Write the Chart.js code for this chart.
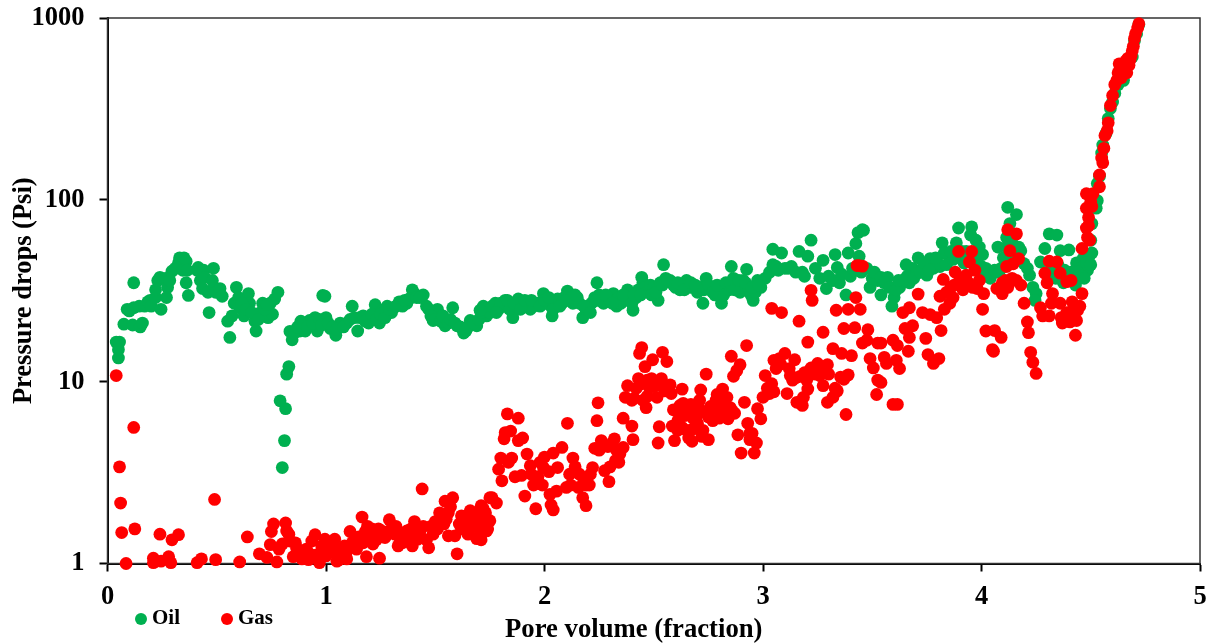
<!DOCTYPE html>
<html>
<head>
<meta charset="utf-8">
<title>Pressure drops</title>
<script src="https://cdn.jsdelivr.net/npm/chart.js@4"></script>
<style>
  html, body { margin: 0; padding: 0; background: #fff; }
  #wrap { width: 1211px; height: 644px; }
</style>
</head>
<body>
<div id="wrap"><canvas id="chart" width="1211" height="644"></canvas></div>
<script>
const xTicks = [0, 1, 2, 3, 4, 5];
const yTicks = [1, 10, 100, 1000];
const seriesNames = ['Oil', 'Gas'];

// values: [pore volume, pressure drop]
const oilPoints = [
  [.04,16.5],[.055,16.5],[.05,13.5],[.05,15],[.075,20.7],[.09,25],[.10,24.5],[.12,25.5],[.12,35],[.115,20.5],[.15,20],[.16,21],
  [.145,26],[.17,26],[.195,28],[.185,27.5],[.2,26],[.22,29],[.245,25],[.22,32],[.23,36],[.24,37.5],[.265,37],[.27,29],[.275,33],
  [.285,36],[.295,40.5],[.31,42],[.325,45],[.33,48],[.35,48],[.36,46],[.345,41],[.365,41],[.36,35],[.37,29.8],[.41,41],[.415,42.5],
  [.425,36],[.44,41],[.445,37.5],[.435,32.5],[.46,31],[.465,24],[.485,42],[.48,36],[.485,32.5],[.495,31],[.515,32.5],[.525,29.5],
  [.56,17.5],[.59,33],[.645,30.5],[.58,27],[.55,21.5],[.57,23],[.605,25.5],[.625,23],[.65,27],[.675,21.5],[.68,19],[.70,24],[.71,27],
  [.735,22.5],[.755,23.5],[.745,27],[.765,28.5],[.78,31],[.60,29],[.615,27],[.635,25],[.66,24],[.69,22],[.72,25],[.73,26.5],
  [.80,3.37],[.81,4.74],[.815,7.1],[.79,7.85],[.82,11],[.83,12.1],
  [.835,18.9],[.845,17],[.855,18.5],[.885,21.5],[.88,19],[.905,19],[.925,21.7],[.96,19],[.95,22.5],[.985,29.8],[.995,29.5],[1.0,22.5],
  [1.02,19.6],[1.045,18],[1.065,21],[1.095,21],[1.12,26],[1.145,19],[1.155,22.5],[1.195,21],[1.245,21],[1.225,26.5],[1.26,24.7],
  [1.30,24],[1.28,26],[1.335,27.5],[1.37,27],[1.395,32],[1.405,30.5],[1.445,30],[1.46,26],[1.49,21.7],[1.51,25],[1.545,20.3],[1.58,25.5],
  [1.60,20.3],[1.63,18.5],[1.66,21.7],[1.69,20.3],[1.72,26],[1.735,23],
  [.87,20],[.90,21],[.915,20],[.94,21],[.97,22],[.98,20.5],[1.01,21],[1.03,20],[1.05,19.5],[1.08,20],[1.11,22],[1.13,22.5],[1.17,23],
  [1.18,21.5],[1.21,23.5],[1.23,22],[1.25,23.5],[1.27,22.5],[1.29,25],[1.31,25.5],[1.32,26],[1.35,26],[1.36,28],[1.38,28.5],[1.415,29],
  [1.43,29],[1.47,25],[1.48,23],[1.50,22],[1.525,21.5],[1.535,23],[1.56,21],[1.57,22],[1.59,21],[1.615,20],[1.64,19],[1.65,20],[1.675,21],
  [1.70,22],[1.71,24],[1.75,24],[1.76,26],
  [1.705,24.7],[1.775,27],[1.82,28],[1.855,22.5],[1.88,28.5],[1.935,25],[1.995,30.5],[2.035,23],[2.06,28.5],[2.105,31.5],[2.15,29],
  [2.175,22.5],[2.215,27],[2.24,35],[2.27,27],[2.315,30.5],[2.33,26],[2.38,32],[2.405,24.7],[2.445,37.5],[2.45,35],[2.52,28],[2.545,44],
  [2.575,36],[2.62,32],[2.65,36],[2.725,27],[2.74,37],[2.81,27],[2.855,43],[2.835,33],[2.925,41.5],[2.895,31],[2.955,28],[2.975,36],
  [1.79,25],[1.80,27],[1.84,25],[1.87,26],[1.90,27],[1.92,26],[1.95,26],[1.97,27],[2.01,27],[2.03,26],[2.05,26],[2.08,27],[2.09,29],
  [2.12,29],[2.13,27],[2.16,27],[2.19,25],[2.20,26],[2.23,29],[2.25,30],[2.26,28],[2.29,29],[2.30,28],[2.34,29],[2.35,27],[2.37,28.5],
  [2.39,30],[2.42,29],[2.43,32],[2.46,33],[2.47,31],[2.485,34],[2.50,33],[2.53,35],[2.555,37],[2.59,34],[2.60,33],[2.635,34],[2.66,33],
  [2.68,33],[2.70,31],[2.715,33],[2.76,32],[2.78,30],[2.80,32],[2.82,30],[2.845,32],[2.865,37],[2.88,34],[2.905,33],[2.91,36],[2.935,33],
  [2.945,30],[2.965,31],[2.99,33],[3.01,37],
  [1.78,24],[1.83,28],[1.86,27],[1.89,25],[1.91,28],[1.94,28],[1.98,26],[2.00,28],[2.02,29],[2.04,25],[2.07,26],[2.10,28],[2.14,30],[2.18,26],
  [2.21,24],[2.24,28],[2.28,30],[2.31,27],[2.36,30],[2.40,27],[2.41,30],[2.44,30],[2.49,30],[2.51,31],[2.54,34],[2.565,36],[2.61,35],[2.64,32],
  [2.67,35],[2.69,34],[2.73,32],[2.75,34],[2.77,31],[2.79,34],[2.83,35],[2.85,35],[2.87,32],[2.89,36],[2.92,35],[2.95,33],[2.98,34],
  [3.045,53.5],[3.085,51],[3.045,44],[3.115,42],[3.165,52],[3.205,49],[3.22,60],[3.18,40],[3.275,46.5],[3.29,32.5],[3.33,50],[3.34,42.5],
  [3.38,30],[3.39,51],[3.425,57.5],[3.435,66],[3.455,68.5],[3.44,49],[3.49,33],[3.475,42],[3.525,36],[3.03,40],[3.06,43],[3.07,41],[3.10,42],
  [3.13,43],[3.15,40],[3.19,38],[3.24,42],[3.26,37],[3.30,38],[3.32,36],[3.35,35],[3.36,39],[3.40,38],[3.41,42],[3.45,40],[3.50,37],[3.51,40],
  [3.46,68],[3.54,30],[3.59,26],[3.60,29],[3.54,37.5],[3.57,37.5],[3.625,33],[3.655,44],[3.67,35],[3.71,48],[3.75,38.5],[3.765,47.5],[3.81,43],
  [3.82,58],[3.83,51],[3.855,48],[3.885,58],[3.895,70],[3.955,71],[3.95,64],[3.975,60],[4.005,50],[4.00,43],[4.03,39.5],[4.05,39.5],[4.075,55],
  [4.115,55],[4.12,91],[4.16,83],[4.13,74],[4.115,62],[4.18,52.5],[4.195,44.5],[4.22,38.5],[4.235,33],[4.25,30.5],[4.245,28],[4.27,45.5],
  [4.29,54],[4.31,65],[4.345,64],[4.36,52.5],[4.40,53],[4.375,35],[4.43,34],[4.435,45],[4.465,47.5],[4.485,41],[4.505,51],[4.505,74],
  [3.555,35],[3.58,33],[3.61,32],[3.64,36],[3.685,42],[3.70,39],[3.73,42],[3.78,42],[3.80,45],[3.84,44],[3.87,47],[3.91,52],[3.93,52],[3.99,55],
  [4.02,42],[4.04,37],[4.06,41],[4.09,42],[4.10,48],[4.14,58],[4.17,55],[4.30,40],[4.325,38],[4.35,44],[4.39,36],[4.41,40],[4.45,42],[4.475,44],
  [4.49,48],[4.50,60],[3.62,36],[3.66,38],[3.69,37],[3.72,40],[3.74,45],[3.76,41],[3.79,48],[3.86,52],[3.90,48],[3.92,45],[3.96,47],[3.98,48],
  [4.01,38],[4.08,40],[4.11,45],[4.15,48],[4.21,42],[4.33,42],[4.34,37],[4.38,41],[4.42,38],[4.44,40],[4.46,38],[4.47,37],[4.48,45],[4.50,44],
  [4.53,99],[4.525,90],[4.53,123],[4.54,135],[4.55,181],[4.555,200],[4.57,232],[4.58,280],[4.59,318],[4.60,345],[4.61,386],[4.625,430],[4.65,454],
  [4.64,490],[4.66,510],[4.67,560],[4.69,610],[4.70,750],[4.71,820],[4.72,920]
];
const gasPoints = [
  [.04,10.8],[.12,5.6],[.055,3.4],[.06,2.15],[.065,1.48],[.125,1.55],[.085,1.0],[.24,1.45],[.295,1.35],[.325,1.44],[.21,1.07],[.21,1.01],
  [.245,1.03],[.28,1.09],[.29,1.01],[.41,1.01],[.43,1.06],[.495,1.05],[.605,1.02],[.49,2.25],[.64,1.4],[.695,1.13],[.73,1.08],[.775,1.02],
  [.76,1.65],[.815,1.67],[.75,1.5],[.82,1.51],[.745,1.27],[.785,1.2],[.80,1.28],[.835,1.33],[.85,1.09],[.865,1.22],[.89,1.06],[.925,1.13],
  [.935,1.33],[.95,1.44],[.97,1.01],[.995,1.36],[1.01,1.17],[1.04,1.36],[1.05,1.03],[1.095,1.06],[1.05,1.2],[1.085,1.25],[1.11,1.5],[1.14,1.2],
  [1.165,1.8],[1.185,1.09],[1.19,1.6],[1.215,1.28],[1.245,1.07],[1.24,1.55],[1.29,1.74],[1.27,1.39],[1.315,1.45],[1.33,1.25],[1.395,1.25],
  [1.405,1.7],[1.37,1.51],[1.445,1.6],[1.42,1.36],[1.47,1.22],[1.44,2.57],[1.49,1.45],[1.52,1.9],[1.545,2.2],[1.58,2.3],[1.56,1.42],[1.60,1.13],
  [1.59,1.42],[1.56,1.9],[1.62,1.83],[1.65,1.45],[1.66,1.76],[1.69,1.37],[1.71,2.08],[1.75,2.3],[1.72,1.67],[1.74,1.55],
  [.83,1.45],[.87,1.15],[.90,1.1],[.91,1.2],[.98,1.25],[1.02,1.3],[1.03,1.15],[1.07,1.15],[1.10,1.2],[1.13,1.35],[1.15,1.4],[1.17,1.3],[1.20,1.45],
  [1.22,1.5],[1.23,1.35],[1.26,1.5],[1.28,1.45],[1.30,1.55],[1.35,1.3],[1.36,1.45],[1.38,1.4],[1.41,1.4],[1.43,1.5],[1.46,1.35],[1.48,1.6],[1.50,1.7],
  [1.53,1.8],[1.57,2.05],[1.61,1.65],[1.63,1.7],[1.64,1.6],[1.67,1.6],[1.68,1.9],[1.70,1.8],[1.73,1.9],
  [.86,1.3],[.92,1.05],[.96,1.12],[1.00,1.1],[1.06,1.05],[1.09,1.12],[1.12,1.3],[1.16,1.4],[1.18,1.5],[1.21,1.55],[1.25,1.4],[1.32,1.6],[1.34,1.35],
  [1.39,1.55],[1.51,1.55],[1.54,1.65],[1.55,1.75],[1.62,1.55],[1.68,1.65],[1.70,1.55],[1.73,1.7],[1.66,1.95],
  [1.71,1.35],[1.72,2],[1.735,1.51],[1.75,1.72],[1.76,2.3],[1.78,2.15],
  [1.805,2.85],[1.79,3.3],[1.80,3.8],[1.85,3.8],[1.835,3.6],[1.865,3],[1.895,3.05],[1.815,4.85],[1.82,5.25],[1.845,5.35],[1.83,6.65],[1.88,6.3],
  [1.88,4.74],[1.90,4.9],[1.91,2.35],[1.96,2],[2.03,2.1],[2.04,1.97],[1.92,4],[1.935,3.45],[1.95,2.7],[1.99,2.7],[1.995,3.37],[2.0,3.85],[2.025,2.4],
  [2.055,2.5],[2.04,4.05],[2.08,4.35],[2.06,3.37],[2.10,2.62],[2.115,3.1],[2.13,3.8],[2.105,5.9],[2.155,2.62],[2.175,2.3],[2.19,2.08],[2.205,2.7],
  [2.22,3.37],[2.23,4.3],[2.26,4.74],[2.24,6.1],[2.245,7.65],[2.275,3.24],[2.295,2.82],[2.325,3.68],[2.32,4.85],[2.36,4.35],[2.345,4],[2.36,6.3],
  [2.40,5.7],[2.405,4.8],[2.37,8.2],[2.38,9.5],[2.43,10.4],[2.41,8.1],[2.465,7.2],[2.45,7.9],[2.515,8.2],[2.435,14.3],[2.445,15.4],[2.46,12.1],
  [2.495,13.2],[2.54,14.5],[2.56,12.9],[2.48,9.3],[2.49,10.4],[2.535,10.4],[2.575,9.6],[2.58,8.6],[2.63,9.1],[2.525,5.65],[2.52,4.6],[2.595,4.74],
  [2.585,5.7],[2.605,6.9],[2.635,7.6],[2.675,4.7],[2.65,5.4],[2.70,5.9],[2.68,6.3],[2.71,7.9],[2.715,9],[2.74,11],[2.75,4.8],[2.725,5.4],[2.77,6.1],
  [2.80,6.3],[2.785,7.9],[2.815,9.1],[2.835,8.2],[2.84,6.25],[2.86,6.9],[2.855,13.8],[2.895,12.4],[2.88,11.5],[2.865,10.7],[2.925,15.8],[2.915,7.7],
  [2.885,5.1],[2.93,5.9],[2.90,4.05],[2.96,4.05],[2.97,4.6],[2.94,5.2],[2.99,6.25],[2.975,7.1],[3.0,8.2],[3.03,8.6],[3.04,9.75],[3.01,10.8],[3.05,13.1],
  [3.075,13.4],[3.10,14.3],[3.145,13.2],[3.11,8.6],[3.125,10.8],[3.135,10.2],[3.155,7.7],[3.18,7.4],[3.185,8.2],[3.19,11.2],[3.22,11.9],[3.205,9.1],
  [3.25,12.6],[3.295,12.4],[3.26,10.8],[3.275,9.5],[3.295,7.7],[3.32,8.2],[3.34,8.9],[3.355,10.6],[3.39,10.9],[3.38,6.6],[3.32,15.2],[3.36,14.3],
  [3.405,13.9],[3.275,18.7],[3.205,16.5],[3.165,21.5],[3.04,25.3],[3.085,24],[3.22,31.8],[3.225,28],[3.335,24.7],[3.39,25],[3.445,25],[3.425,29],
  [3.37,19.6],[3.42,19.8],[3.48,19.3],[3.455,16.3],[3.475,16.9],[3.49,13.4],[3.505,11.9],[3.525,16.3],[3.52,8.5],[3.525,10.2],[3.43,43.5],[3.455,43.2],[3.44,43.5],
  [1.94,3.1],[1.97,3.0],[1.98,3.6],[2.02,3.2],[2.12,2.7],[2.14,3.4],[2.16,3.1],[2.18,2.9],[2.19,2.7],[2.21,3.1],[2.25,4.2],
  [2.27,4.5],[2.29,4.4],[2.31,4.6],[2.33,4.2],[2.34,3.6],[2.30,3.4],[2.40,7.9],[2.42,9.2],[2.44,9.7],[2.47,10.2],[2.50,9.4],[2.47,8.3],[2.53,9.6],[2.55,8.9],
  [2.59,7],[2.61,6.1],[2.62,7.4],[2.64,6.5],[2.66,6.9],[2.67,7.5],[2.69,7.1],[2.70,6.6],[2.72,6.9],[2.75,6.4],[2.76,7.3],[2.78,7.1],[2.79,8.5],[2.80,7.3],
  [2.82,7.7],[2.83,6.9],[2.85,7.2],[2.87,6.7],[2.61,5.4],[2.63,5.6],[2.66,4.9],[2.68,5.5],[2.72,5],[2.94,4.8],[2.95,5.2],[3.02,9.2],[3.05,8.8],[3.06,11.8],
  [3.08,12.5],[3.12,11.8],[3.15,10.5],[3.17,10.7],[3.20,10.2],[3.24,11],[3.27,11.9],[3.30,11],[3.33,9.2],[3.37,10.3],
  [3.54,16.3],[3.555,13.6],[3.565,12.6],[3.595,16.9],[3.61,13.1],[3.625,11.8],[3.615,15.8],[3.665,14.7],[3.67,17.5],[3.65,19.6],[3.685,20.3],[3.745,17.3],
  [3.755,14.1],[3.78,12.6],[3.805,13.4],[3.815,19.1],[3.64,24],[3.67,25.5],[3.71,30.3],[3.73,24],[3.765,23.4],[3.795,22.5],[3.81,29.5],[3.83,25],[3.855,27],
  [3.87,29],[3.825,36.5],[3.88,40],[3.875,34],[3.915,32],[3.93,38.5],[3.895,52],[3.955,52],[3.945,45.5],[3.97,41],[3.98,32.5],[4.01,30.5],[4.005,25],
  [4.02,19],[4.06,19.1],[4.09,17.5],[4.05,15],[4.055,14.7],[4.07,32.5],[4.095,30.5],[4.095,35],[4.14,37],[4.18,34],[4.115,43],[4.13,52.5],[4.145,44.5],
  [4.17,47.5],[4.12,68.5],[4.16,65],[4.195,27],[4.21,21.3],[4.215,18.6],[4.225,14.5],[4.235,12.8],[4.25,11.1],[4.27,25.5],[4.28,23],[4.31,23],[4.29,39.5],
  [4.30,35],[4.325,30.5],[4.32,27],[4.36,27],[4.31,46],[4.345,45.5],[4.36,39.5],[4.39,35.5],[4.41,36],[4.415,27.5],[4.46,30.5],[4.44,24.7],[4.365,22.5],
  [4.37,21],[4.405,21.3],[4.435,21.7],[4.43,18],[3.54,9.9],[3.595,7.5],[3.615,7.5],
  [3.90,36],[3.92,37],[3.94,35],[3.96,33],[3.99,36],[3.86,33],[3.84,31],[4.11,36],[4.12,33],[4.16,36],[4.40,23],[4.42,25],[4.39,24],[4.45,26],[4.38,22],
  [4.46,54],[4.48,70],[4.495,60],[4.48,90],[4.505,92],[4.48,108],[4.51,108],[4.54,118],[4.54,137],[4.555,160],[4.56,192],[4.565,226],[4.58,265],[4.59,330],
  [4.60,375],[4.62,455],[4.635,535],[4.655,560],[4.68,590],[4.69,660],[4.70,770],[4.72,930],[4.49,80],[4.485,62],[4.625,500],[4.64,470],[4.65,520],
  [4.665,500],[4.675,550],[4.695,700],[4.705,820],[4.715,880],[4.575,240],[4.55,170],[4.63,560],[4.645,530],[4.66,580],[4.67,600],[4.64,520],[4.61,430],
  [4.685,620],[4.50,98],[4.49,72]
];

const serif = '"Liberation Serif", "Times New Roman", serif';

// legend and x title sit where they do in the figure, not where the layout puts them
const moveLegend = {
  id: 'moveLegend',
  afterLayout(chart) {
    const l = chart.legend;
    const w = l.width, h = l.height;
    l.left = 94;
    l.right = l.left + w;
    l.top = 562;
    l.bottom = l.top + h;

    const x = chart.scales.x;
    const drawTitle = x.drawTitle;
    x.drawTitle = function () {
      const left = this.left;
      this.left = left - 40;
      drawTitle.call(this);
      this.left = left;
    };
  }
};

// top and right edges of the plot frame
const plotFrame = {
  id: 'plotFrame',
  beforeDatasetsDraw(chart) {
    const { ctx, chartArea: a } = chart;
    ctx.save();
    ctx.strokeStyle = '#333333';
    ctx.lineWidth = 1.5;
    ctx.strokeRect(a.left, a.top, a.right - a.left, a.bottom - a.top);
    ctx.restore();
  }
};

new Chart(document.getElementById('chart'), {
  type: 'scatter',
  data: {
    datasets: [
      {
        label: seriesNames[0],
        data: oilPoints.map(p => ({ x: p[0], y: p[1] })),
        backgroundColor: '#00B050',
        borderColor: '#00B050',
        pointRadius: 6.4,
        borderWidth: 0,
        clip: false,
        order: 2
      },
      {
        label: seriesNames[1],
        data: gasPoints.map(p => ({ x: p[0], y: p[1] })),
        backgroundColor: '#FF0000',
        borderColor: '#FF0000',
        pointRadius: 6.4,
        borderWidth: 0,
        clip: false,
        order: 1
      }
    ]
  },
  options: {
    responsive: false,
    animation: false,
    layout: { autoPadding: false, padding: { top: 18, right: 11, left: 0, bottom: -78 } },
    plugins: {
      tooltip: { enabled: false },
      legend: {
        position: 'bottom',
        align: 'start',
        labels: {
          usePointStyle: true,
          pointStyle: 'circle',
          boxWidth: 1,
          boxHeight: 8.5,
          padding: 46.5,
          color: '#000',
          font: { family: serif, size: 21, weight: 'bold' },
          sort: (a, b) => a.datasetIndex - b.datasetIndex
        }
      }
    },
    scales: {
      x: {
        type: 'linear',
        min: 0,
        max: 5,
        afterFit: s => { s.height = 81; s.paddingLeft = 0; s.paddingRight = 0; },
        afterBuildTicks: s => { s.ticks = xTicks.map(v => ({ value: v })); },
        ticks: { color: '#000', maxRotation: 0, padding: 10, font: { family: serif, size: 26.5, weight: 'bold' } },
        grid: { drawOnChartArea: false, drawTicks: true, tickLength: 8, tickColor: '#000', tickWidth: 2 },
        border: { color: '#000', width: 2 },
        title: { display: true, text: 'Pore volume (fraction)', color: '#000', padding: { top: 0, bottom: -2 }, font: { family: serif, size: 26.7, weight: 'bold' } }
      },
      y: {
        type: 'logarithmic',
        min: 1,
        max: 1000,
        afterFit: s => { s.width = 107.5; s.paddingTop = 0; s.paddingBottom = 0; },
        afterBuildTicks: s => { s.ticks = yTicks.map(v => ({ value: v })); },
        ticks: { color: '#000', padding: 15, callback: v => String(v), font: { family: serif, size: 26.5, weight: 'bold' } },
        grid: { drawOnChartArea: false, drawTicks: true, tickLength: 8, tickColor: '#000', tickWidth: 2 },
        border: { color: '#000', width: 2 },
        title: { display: true, text: 'Pressure drops (Psi)', color: '#000', padding: { top: 8, bottom: 0 }, font: { family: serif, size: 26.5, weight: 'bold' } }
      }
    }
  },
  plugins: [moveLegend, plotFrame]
});
</script>
</body>
</html>
